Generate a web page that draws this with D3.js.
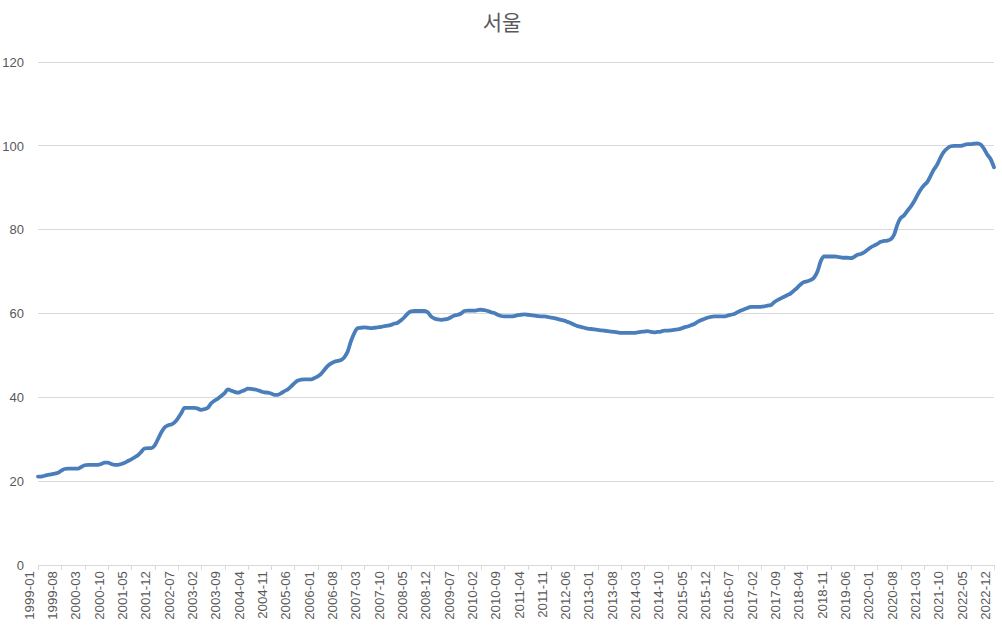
<!DOCTYPE html>
<html>
<head>
<meta charset="utf-8">
<script src="https://cdn.jsdelivr.net/npm/d3@7"></script>
<style>
  html, body { margin: 0; padding: 0; background: #fff; }
  svg { display: block; }
</style>
</head>
<body>
<svg id="chart" width="1002" height="630"></svg>
<script>
const title = "서울";
const startYear = 1999;
const startMonth = 1;
const values = [
  // 1999
  21.1, 21.1, 21.3, 21.5, 21.6, 21.8, 22.0, 22.5, 22.9, 23.0, 23.0, 23.0,
  // 2000
  23.0, 23.4, 23.8, 23.9, 23.9, 23.9, 23.9, 24.1, 24.4, 24.4, 24.1, 23.9,
  // 2001
  23.9, 24.1, 24.4, 24.8, 25.2, 25.7, 26.2, 27.0, 27.8, 27.9, 27.9, 28.5,
  // 2002
  30.0, 31.6, 32.8, 33.3, 33.5, 34.0, 35.0, 36.2, 37.5, 37.5, 37.5, 37.5,
  // 2003
  37.3, 37.0, 37.2, 37.5, 38.6, 39.2, 39.7, 40.3, 41.0, 41.9, 41.6, 41.3,
  // 2004
  41.1, 41.4, 41.7, 42.1, 42.0, 41.9, 41.7, 41.4, 41.2, 41.1, 40.9, 40.6,
  // 2005
  40.6, 41.0, 41.5, 41.9, 42.6, 43.4, 44.0, 44.2, 44.3, 44.3, 44.3, 44.6,
  // 2006
  45.0, 45.6, 46.6, 47.5, 48.1, 48.5, 48.7, 48.9, 49.6, 51.0, 53.5, 55.4,
  // 2007
  56.5, 56.6, 56.7, 56.6, 56.5, 56.6, 56.7, 56.8, 57.0, 57.1, 57.3, 57.6,
  // 2008
  57.8, 58.4, 59.1, 60.0, 60.5, 60.6, 60.6, 60.6, 60.6, 60.3, 59.3, 58.8,
  // 2009
  58.6, 58.5, 58.6, 58.7, 59.1, 59.5, 59.7, 60.0, 60.6, 60.7, 60.7, 60.7,
  // 2010
  60.8, 60.9, 60.8, 60.6, 60.3, 60.1, 59.7, 59.4, 59.3, 59.3, 59.3, 59.4,
  // 2011
  59.6, 59.7, 59.8, 59.7, 59.6, 59.5, 59.4, 59.3, 59.3, 59.2, 59.0, 58.9,
  // 2012
  58.7, 58.5, 58.3, 58.0, 57.7, 57.3, 57.0, 56.8, 56.6, 56.4, 56.3, 56.2,
  // 2013
  56.1, 56.0, 55.9, 55.8, 55.7, 55.6, 55.5, 55.4, 55.4, 55.4, 55.4, 55.4,
  // 2014
  55.5, 55.6, 55.7, 55.8, 55.6, 55.5, 55.6, 55.7, 55.9, 55.9, 56.0, 56.1,
  // 2015
  56.2, 56.4, 56.7, 56.9, 57.2, 57.5, 58.0, 58.4, 58.7, 59.0, 59.2, 59.3,
  // 2016
  59.3, 59.3, 59.3, 59.5, 59.7, 59.9, 60.3, 60.7, 61.0, 61.3, 61.6, 61.6,
  // 2017
  61.6, 61.6, 61.7, 61.9, 62.0, 62.7, 63.2, 63.6, 64.0, 64.4, 64.8, 65.5,
  // 2018
  66.2, 67.0, 67.5, 67.7, 68.0, 68.6, 70.0, 72.5, 73.6, 73.6, 73.6, 73.6,
  // 2019
  73.5, 73.4, 73.3, 73.3, 73.2, 73.5, 74.0, 74.2, 74.6, 75.2, 75.8, 76.2,
  // 2020
  76.6, 77.1, 77.3, 77.4, 77.7, 78.8, 81.2, 82.8, 83.4, 84.5, 85.5, 86.7,
  // 2021
  88.2, 89.6, 90.6, 91.4, 92.9, 94.4, 95.6, 97.3, 98.6, 99.4, 99.9, 100.0,
  // 2022
  100.0, 100.0, 100.2, 100.4, 100.4, 100.5, 100.6, 100.3, 99.3, 97.9, 96.8, 94.9
];
const yTicks = [0, 20, 40, 60, 80, 100, 120];
const labelEvery = 7;

// category labels "YYYY-MM"
const categories = values.map((v, i) => {
  const m = startMonth - 1 + i;
  const y = startYear + Math.floor(m / 12);
  const mm = (m % 12) + 1;
  return y + "-" + String(mm).padStart(2, "0");
});
const tickLabels = categories.filter((c, i) => i % labelEvery === 0);

const svg = d3.select("#chart");
const margin = { left: 38, right: 8, top: 62, bottom: 65 };
const W = 1002, H = 630;

const x = d3.scalePoint().domain(categories).range([margin.left, W - margin.right]);
const y = d3.scaleLinear().domain([0, 120]).range([H - margin.bottom, margin.top]);

// gridlines
svg.append("g")
  .selectAll("line")
  .data(yTicks.filter(t => t > 0))
  .join("line")
  .attr("x1", margin.left).attr("x2", W - margin.right)
  .attr("y1", d => y(d)).attr("y2", d => y(d))
  .attr("stroke", "#d9d9d9").attr("stroke-width", 1)
  .attr("shape-rendering", "crispEdges");

// y axis labels
const yAxis = d3.axisLeft(y).tickValues(yTicks).tickSize(0).tickPadding(14);
const gy = svg.append("g").attr("transform", `translate(${margin.left},0)`).call(yAxis);
gy.select(".domain").remove();
gy.selectAll("text")
  .attr("fill", "#595959")
  .style("font-family", "'Liberation Sans', Arial, sans-serif")
  .style("font-size", "13px");

// x axis
const xAxis = d3.axisBottom(x).tickValues(tickLabels).tickSize(5).tickPadding(4);
const gx = svg.append("g").attr("transform", `translate(0,${y(0)})`).call(xAxis);
gx.select(".domain").attr("stroke", "#d9d9d9").attr("shape-rendering", "crispEdges");
gx.selectAll(".tick line").attr("stroke", "#d9d9d9").attr("shape-rendering", "crispEdges");
gx.selectAll("text")
  .attr("fill", "#595959")
  .style("font-family", "'Liberation Sans', Arial, sans-serif")
  .style("font-size", "13.3px")
  .attr("transform", "rotate(-90)")
  .attr("text-anchor", "end")
  .attr("dx", "-6")
  .attr("dy", "-0.35em")
  .attr("y", 0)
  .attr("x", 0);

// line
const line = d3.line()
  .x((d, i) => x(categories[i]))
  .y(d => y(d))
  .curve(d3.curveMonotoneX);

svg.append("path")
  .datum(values)
  .attr("fill", "none")
  .attr("stroke", "#4a7ebb")
  .attr("stroke-width", 3.8)
  .attr("stroke-linejoin", "round")
  .attr("stroke-linecap", "round")
  .attr("d", line);

// title
svg.append("text")
  .attr("x", W / 2 + 1)
  .attr("y", 30)
  .attr("text-anchor", "middle")
  .attr("fill", "#595959")
  .style("font-family", "'Noto Sans CJK KR', sans-serif")
  .style("font-size", "21px")
  .text(title);
</script>
</body>
</html>
